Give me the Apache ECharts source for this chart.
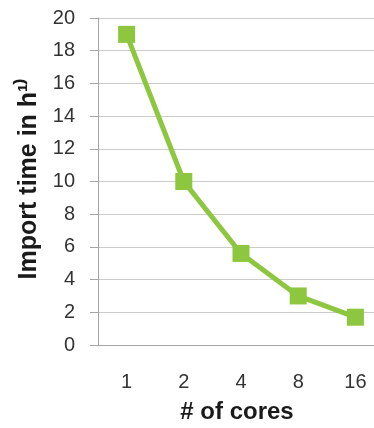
<!DOCTYPE html>
<html>
<head>
<meta charset="utf-8">
<script src="https://cdn.jsdelivr.net/npm/echarts@6/dist/echarts.min.js"></script>
<style>html,body{margin:0;padding:0;background:#fff;}#c{width:374px;height:428px;}</style>
</head>
<body>
<div id="c"></div>
<script>
var categories = ['1', '2', '4', '8', '16'];
var importTime = [19, 10, 5.6, 3, 1.7];
var yMin = 0, yMax = 20, yStep = 2;
var xTitle = '# of cores';
var yTitle = 'Import time in h\u00B9\u207E';

var chart = echarts.init(document.getElementById('c'));
chart.setOption({
  animation: false,
  grid: { left: 98, top: 18, width: 286, bottom: 83, containLabel: false, outerBoundsMode: 'none' },
  xAxis: {
    type: 'category',
    data: categories,
    boundaryGap: true,
    axisLine: { lineStyle: { color: '#a6a6a6', width: 1 } },
    axisTick: { show: false },
    axisLabel: { color: '#333', fontSize: 20, fontFamily: 'Liberation Sans, Arial', margin: 27 },
    name: xTitle,
    nameLocation: 'middle',
    nameGap: 55,
    nameTextStyle: { color: '#1a1a1a', fontSize: 24, fontWeight: 'bold', fontFamily: 'Liberation Sans, Arial', padding: [0, 8, 0, 0] }
  },
  yAxis: {
    type: 'value',
    min: yMin, max: yMax, interval: yStep,
    axisLine: { show: true, lineStyle: { color: '#a6a6a6', width: 1 } },
    axisTick: { show: true, length: 8, lineStyle: { color: '#a6a6a6' } },
    splitLine: { lineStyle: { color: '#cccccc', width: 1 } },
    axisLabel: { color: '#333', fontSize: 20, fontFamily: 'Liberation Sans, Arial', margin: 23 },
    name: yTitle,
    nameLocation: 'middle',
    nameGap: 55,
    nameTextStyle: { color: '#1a1a1a', fontSize: 25, fontWeight: 'bold', fontFamily: 'Liberation Sans, Arial', padding: [0, 0, 0, 6] }
  },
  series: [{
    type: 'line',
    data: importTime,
    symbol: 'rect',
    symbolSize: 17,
    lineStyle: { color: '#8DC63F', width: 5 },
    itemStyle: { color: '#8DC63F' }
  }]
});
</script>
</body>
</html>
